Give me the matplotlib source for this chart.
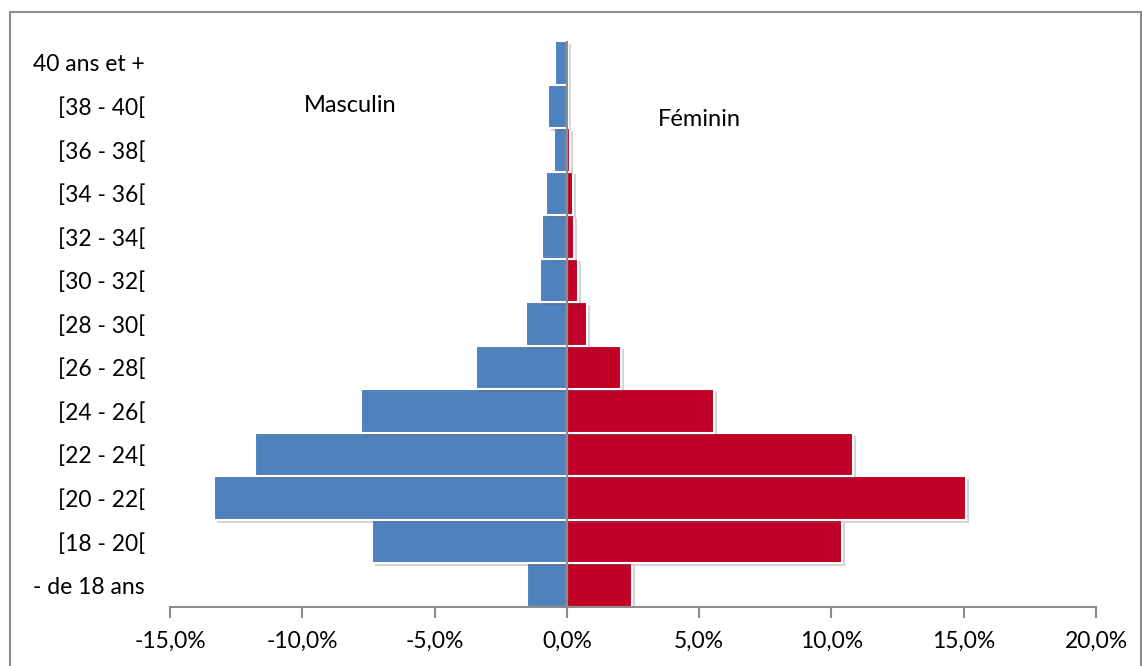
import numpy as np
import matplotlib
matplotlib.use("Agg")
import matplotlib.pyplot as plt
from matplotlib.patches import Rectangle
from matplotlib.ticker import FuncFormatter, MultipleLocator
import matplotlib.patheffects as pe

plt.rcParams['font.family'] = ['Lato', 'DejaVu Sans']

# age groups, bottom to top
categories = ["- de 18 ans", "[18 - 20[", "[20 - 22[", "[22 - 24[", "[24 - 26[",
              "[26 - 28[", "[28 - 30[", "[30 - 32[", "[32 - 34[", "[34 - 36[",
              "[36 - 38[", "[38 - 40[", "40 ans et +"]
# shares in %, male shown as negative
masculin = [-1.51, -7.37, -13.34, -11.79, -7.79, -3.44, -1.55,
            -1.01, -0.93, -0.80, -0.50, -0.72, -0.44]
feminin = [2.46, 10.39, 15.08, 10.81, 5.56, 2.04, 0.76,
           0.44, 0.27, 0.25, 0.13, 0.04, 0.06]

BLUE = "#4F81BD"
RED = "#C00027"
GRAY = "#8C8C8C"

fig = plt.figure(figsize=(11.42, 6.66), dpi=100)
ax = fig.add_axes([170 / 1142, 1 - 607 / 666, (1096 - 170) / 1142, (607 - 41) / 666])

y = np.arange(len(categories))
shadow = [pe.SimplePatchShadow(offset=(2, -2), alpha=0.25, shadow_rgbFace="#555555"), pe.Normal()]
bm = ax.barh(y, masculin, height=1.0, color=BLUE, edgecolor="white", linewidth=1.5, zorder=2)
bf = ax.barh(y, feminin, height=1.0, color=RED, edgecolor="white", linewidth=1.5, zorder=2)
for b in list(bm) + list(bf):
    b.set_path_effects(shadow)

ax.axvline(0, color=GRAY, linewidth=1.5, zorder=3)

ax.set_xlim(-15, 20)
ax.set_ylim(-0.5, 12.5)
ax.xaxis.set_major_locator(MultipleLocator(5))
ax.xaxis.set_major_formatter(FuncFormatter(lambda v, p: f"{v:.1f}%".replace(".", ",")))
ax.set_yticks(y)
ax.set_yticklabels(categories, ha="right")

for s in ["top", "right", "left"]:
    ax.spines[s].set_visible(False)
ax.spines["bottom"].set_color(GRAY)
ax.spines["bottom"].set_linewidth(1.5)
ax.tick_params(axis="x", direction="out", length=8, width=1.5, color=GRAY,
               labelsize=16.5, pad=9)
ax.tick_params(axis="y", length=0, labelsize=16.5, pad=18)

ax.text(-8.2, 11.03, "Masculin", fontsize=17, ha="center", va="center")
ax.text(5.0, 10.69, "Féminin", fontsize=17, ha="center", va="center")

# outer frame
fig.patches.append(Rectangle((10 / 1142, -0.1), (1141 - 10) / 1142, 1.1 - 12 / 666,
                             transform=fig.transFigure, fill=False,
                             edgecolor=GRAY, linewidth=1.5))

fig.savefig("out.png", dpi=100)
